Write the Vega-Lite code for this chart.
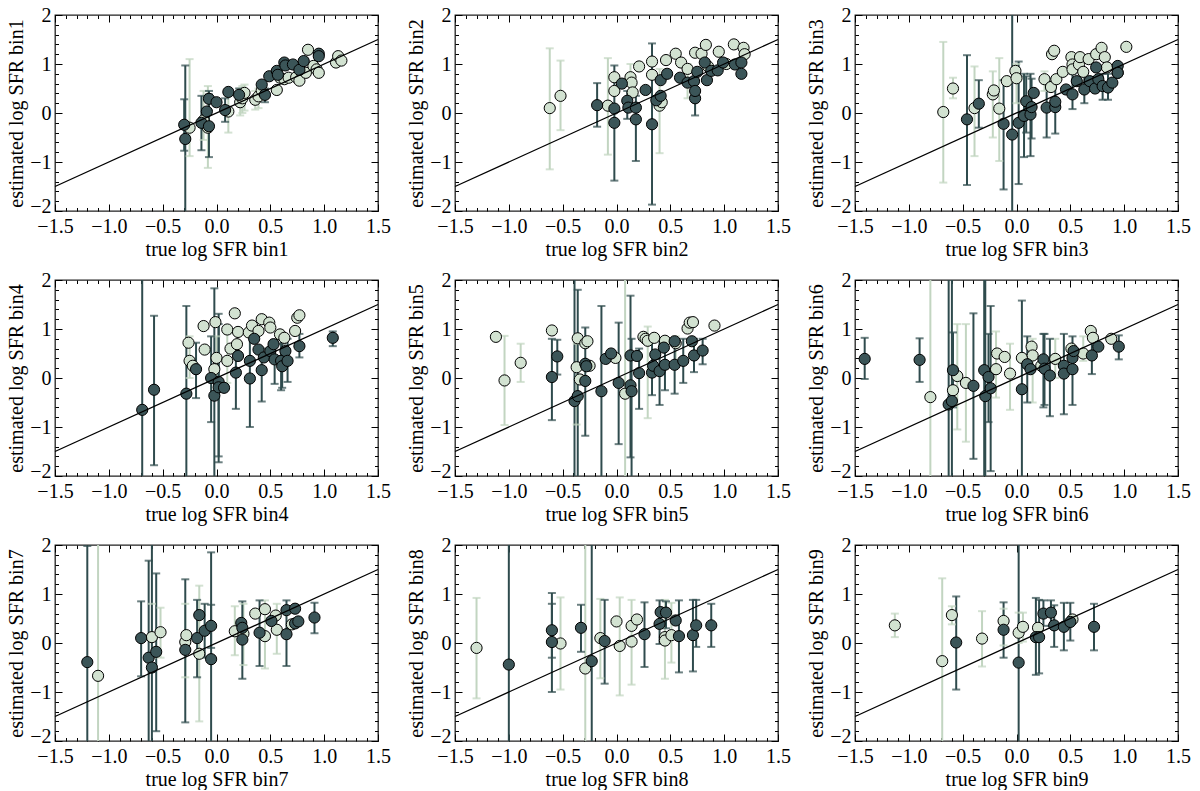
{
  "$schema": "https://vega.github.io/schema/vega-lite/v6.json",
  "background": "white",
  "padding": {"left": 6, "top": 4, "right": 0, "bottom": 0},
  "config": {
    "view": {"stroke": "#222222", "strokeWidth": 1.3},
    "axis": {
      "labelFont": "Liberation Serif", "titleFont": "Liberation Serif",
      "labelFontSize": 20, "titleFontSize": 20, "titleFontWeight": "normal",
      "labelColor": "black", "titleColor": "black", "tickColor": "black", "tickWidth": 1,
      "domain": false, "grid": false, "labelFlush": false, "labelOverlap": false, "titlePadding": 3
    }
  },
  "datasets": {
    "diag": [{"x": -1.5, "y": -1.5}, {"x": 1.5, "y": 1.5}],
    "pts": [
      {"b":1,"g":"L","x":-0.25,"y":-0.30,"lo":-0.88,"hi":1.10},
      {"b":1,"g":"L","x":-0.12,"y":-0.15,"lo":-0.55,"hi":0.45},
      {"b":1,"g":"L","x":-0.08,"y":-0.30,"lo":-1.12,"hi":0.55},
      {"b":1,"g":"L","x":0.11,"y":0.03,"lo":-0.40,"hi":0.35},
      {"b":1,"g":"L","x":0.22,"y":0.22,"lo":-0.05,"hi":0.50},
      {"b":1,"g":"L","x":0.24,"y":0.30,"lo":0.0,"hi":0.55},
      {"b":1,"g":"L","x":0.26,"y":0.41,"lo":0.05,"hi":0.58},
      {"b":1,"g":"L","x":0.36,"y":0.27,"lo":0.07,"hi":0.45},
      {"b":1,"g":"L","x":0.39,"y":0.34,"lo":0.10,"hi":0.50},
      {"b":1,"g":"L","x":0.42,"y":0.46},
      {"b":1,"g":"L","x":0.56,"y":0.47},
      {"b":1,"g":"L","x":0.59,"y":0.72},
      {"b":1,"g":"L","x":0.63,"y":0.69},
      {"b":1,"g":"L","x":0.67,"y":0.72},
      {"b":1,"g":"L","x":0.74,"y":0.73},
      {"b":1,"g":"L","x":0.77,"y":0.66},
      {"b":1,"g":"L","x":0.83,"y":0.82},
      {"b":1,"g":"L","x":0.85,"y":1.29},
      {"b":1,"g":"L","x":0.90,"y":0.96},
      {"b":1,"g":"L","x":0.93,"y":0.89},
      {"b":1,"g":"L","x":0.95,"y":0.82},
      {"b":1,"g":"L","x":1.11,"y":1.03},
      {"b":1,"g":"L","x":1.13,"y":1.16},
      {"b":1,"g":"L","x":1.16,"y":1.07},
      {"b":1,"g":"D","x":-0.30,"y":-0.24,"lo":-0.77,"hi":0.28},
      {"b":1,"g":"D","x":-0.29,"y":-0.53,"lo":-2.5,"hi":0.97},
      {"b":1,"g":"D","x":-0.14,"y":-0.20,"lo":-0.76,"hi":0.35},
      {"b":1,"g":"D","x":-0.09,"y":0.03},
      {"b":1,"g":"D","x":-0.07,"y":-0.27,"lo":-0.90,"hi":0.38},
      {"b":1,"g":"D","x":-0.07,"y":0.29,"lo":0.05,"hi":0.45},
      {"b":1,"g":"D","x":0.0,"y":0.22},
      {"b":1,"g":"D","x":0.08,"y":0.06,"lo":-0.18,"hi":0.30},
      {"b":1,"g":"D","x":0.11,"y":0.43},
      {"b":1,"g":"D","x":0.21,"y":0.37,"lo":0.20,"hi":0.50},
      {"b":1,"g":"D","x":0.42,"y":0.58},
      {"b":1,"g":"D","x":0.45,"y":0.37,"lo":0.22,"hi":0.50},
      {"b":1,"g":"D","x":0.49,"y":0.75},
      {"b":1,"g":"D","x":0.56,"y":0.86},
      {"b":1,"g":"D","x":0.57,"y":0.78},
      {"b":1,"g":"D","x":0.63,"y":1.03},
      {"b":1,"g":"D","x":0.64,"y":0.97},
      {"b":1,"g":"D","x":0.71,"y":0.99},
      {"b":1,"g":"D","x":0.77,"y":0.88},
      {"b":1,"g":"D","x":0.81,"y":1.06},
      {"b":1,"g":"D","x":0.95,"y":1.21},
      {"b":1,"g":"D","x":0.95,"y":1.16},

      {"b":2,"g":"L","x":-0.62,"y":0.10,"lo":-1.15,"hi":1.32},
      {"b":2,"g":"L","x":-0.52,"y":0.35,"lo":-0.35,"hi":1.07},
      {"b":2,"g":"L","x":-0.08,"y":0.15,"lo":-0.85,"hi":1.12},
      {"b":2,"g":"L","x":-0.02,"y":0.45},
      {"b":2,"g":"L","x":-0.02,"y":0.73},
      {"b":2,"g":"L","x":0.13,"y":0.73,"lo":0.20,"hi":1.00},
      {"b":2,"g":"L","x":0.14,"y":0.62},
      {"b":2,"g":"L","x":0.15,"y":0.42},
      {"b":2,"g":"L","x":0.21,"y":0.95},
      {"b":2,"g":"L","x":0.33,"y":1.05},
      {"b":2,"g":"L","x":0.33,"y":0.78},
      {"b":2,"g":"L","x":0.40,"y":0.15,"lo":-0.82,"hi":0.90},
      {"b":2,"g":"L","x":0.42,"y":0.22},
      {"b":2,"g":"L","x":0.46,"y":1.08},
      {"b":2,"g":"L","x":0.55,"y":1.21},
      {"b":2,"g":"L","x":0.60,"y":1.03},
      {"b":2,"g":"L","x":0.66,"y":0.90,"lo":0.30,"hi":1.00},
      {"b":2,"g":"L","x":0.73,"y":1.23},
      {"b":2,"g":"L","x":0.79,"y":1.21},
      {"b":2,"g":"L","x":0.83,"y":1.39},
      {"b":2,"g":"L","x":0.85,"y":0.95},
      {"b":2,"g":"L","x":0.95,"y":1.25},
      {"b":2,"g":"L","x":1.02,"y":1.00},
      {"b":2,"g":"L","x":1.09,"y":1.40},
      {"b":2,"g":"L","x":1.18,"y":1.33},
      {"b":2,"g":"L","x":1.19,"y":1.20},
      {"b":2,"g":"D","x":-0.18,"y":0.16,"lo":-0.28,"hi":0.61},
      {"b":2,"g":"D","x":-0.02,"y":0.09},
      {"b":2,"g":"D","x":-0.02,"y":-0.20,"lo":-1.38,"hi":0.97},
      {"b":2,"g":"D","x":0.05,"y":0.60},
      {"b":2,"g":"D","x":0.10,"y":0.25,"lo":-0.12,"hi":0.45},
      {"b":2,"g":"D","x":0.11,"y":0.11},
      {"b":2,"g":"D","x":0.18,"y":-0.13,"lo":-0.98,"hi":0.35},
      {"b":2,"g":"D","x":0.18,"y":0.11},
      {"b":2,"g":"D","x":0.27,"y":0.47},
      {"b":2,"g":"D","x":0.33,"y":-0.23,"lo":-1.87,"hi":1.42},
      {"b":2,"g":"D","x":0.37,"y":0.26},
      {"b":2,"g":"D","x":0.41,"y":0.35},
      {"b":2,"g":"D","x":0.41,"y":0.67},
      {"b":2,"g":"D","x":0.47,"y":0.80},
      {"b":2,"g":"D","x":0.59,"y":0.72},
      {"b":2,"g":"D","x":0.66,"y":0.62},
      {"b":2,"g":"D","x":0.72,"y":0.65},
      {"b":2,"g":"D","x":0.73,"y":0.30,"lo":-0.05,"hi":0.60},
      {"b":2,"g":"D","x":0.73,"y":0.45},
      {"b":2,"g":"D","x":0.75,"y":0.84},
      {"b":2,"g":"D","x":0.82,"y":1.03},
      {"b":2,"g":"D","x":0.84,"y":0.67},
      {"b":2,"g":"D","x":0.88,"y":0.86},
      {"b":2,"g":"D","x":0.94,"y":0.87},
      {"b":2,"g":"D","x":0.99,"y":1.03},
      {"b":2,"g":"D","x":1.10,"y":0.99},
      {"b":2,"g":"D","x":1.16,"y":1.03},
      {"b":2,"g":"D","x":1.16,"y":0.80},

      {"b":3,"g":"L","x":-0.68,"y":0.02,"lo":-1.42,"hi":1.45},
      {"b":3,"g":"L","x":-0.59,"y":0.50,"lo":0.30,"hi":0.72},
      {"b":3,"g":"L","x":-0.39,"y":0.10,"lo":-0.88,"hi":0.95},
      {"b":3,"g":"L","x":-0.22,"y":0.38,"lo":-0.50,"hi":0.85},
      {"b":3,"g":"L","x":-0.21,"y":0.46},
      {"b":3,"g":"L","x":-0.16,"y":0.09,"lo":-0.98,"hi":1.12},
      {"b":3,"g":"L","x":-0.09,"y":0.65},
      {"b":3,"g":"L","x":-0.01,"y":0.86},
      {"b":3,"g":"L","x":0.0,"y":0.71,"lo":0.20,"hi":1.00},
      {"b":3,"g":"L","x":0.26,"y":0.69,"lo":0.45,"hi":0.85},
      {"b":3,"g":"L","x":0.32,"y":0.53},
      {"b":3,"g":"L","x":0.33,"y":1.20},
      {"b":3,"g":"L","x":0.35,"y":1.27},
      {"b":3,"g":"L","x":0.37,"y":0.69},
      {"b":3,"g":"L","x":0.43,"y":0.84},
      {"b":3,"g":"L","x":0.51,"y":1.14},
      {"b":3,"g":"L","x":0.52,"y":0.99},
      {"b":3,"g":"L","x":0.52,"y":0.89},
      {"b":3,"g":"L","x":0.58,"y":0.99},
      {"b":3,"g":"L","x":0.59,"y":1.14},
      {"b":3,"g":"L","x":0.62,"y":0.84},
      {"b":3,"g":"L","x":0.67,"y":1.10},
      {"b":3,"g":"L","x":0.74,"y":1.20},
      {"b":3,"g":"L","x":0.79,"y":1.33},
      {"b":3,"g":"L","x":0.82,"y":1.14},
      {"b":3,"g":"L","x":0.84,"y":0.93},
      {"b":3,"g":"L","x":0.94,"y":0.82},
      {"b":3,"g":"L","x":1.02,"y":1.35},
      {"b":3,"g":"D","x":-0.46,"y":-0.13,"lo":-1.47,"hi":1.18},
      {"b":3,"g":"D","x":-0.35,"y":0.19,"lo":-0.30,"hi":0.67},
      {"b":3,"g":"D","x":-0.12,"y":-0.22,"lo":-1.56,"hi":0.67},
      {"b":3,"g":"D","x":-0.04,"y":-0.44,"lo":-2.5,"hi":2.5},
      {"b":3,"g":"D","x":0.02,"y":-0.20,"lo":-1.45,"hi":1.05},
      {"b":3,"g":"D","x":0.07,"y":-0.06,"lo":-0.90,"hi":0.80},
      {"b":3,"g":"D","x":0.09,"y":0.24,"lo":-0.40,"hi":0.75},
      {"b":3,"g":"D","x":0.13,"y":-0.03,"lo":-0.88,"hi":0.80},
      {"b":3,"g":"D","x":0.14,"y":0.12,"lo":-0.52,"hi":0.70},
      {"b":3,"g":"D","x":0.16,"y":0.41},
      {"b":3,"g":"D","x":0.28,"y":0.11,"lo":-0.50,"hi":0.70},
      {"b":3,"g":"D","x":0.36,"y":0.12,"lo":-0.42,"hi":0.72},
      {"b":3,"g":"D","x":0.36,"y":0.23},
      {"b":3,"g":"D","x":0.46,"y":0.48},
      {"b":3,"g":"D","x":0.52,"y":0.38,"lo":0.08,"hi":0.80},
      {"b":3,"g":"D","x":0.56,"y":0.65},
      {"b":3,"g":"D","x":0.63,"y":0.48,"lo":0.20,"hi":0.80},
      {"b":3,"g":"D","x":0.68,"y":0.65},
      {"b":3,"g":"D","x":0.73,"y":0.50},
      {"b":3,"g":"D","x":0.74,"y":0.93},
      {"b":3,"g":"D","x":0.76,"y":0.69},
      {"b":3,"g":"D","x":0.80,"y":0.55,"lo":0.27,"hi":0.80},
      {"b":3,"g":"D","x":0.85,"y":0.52,"lo":0.27,"hi":0.80},
      {"b":3,"g":"D","x":0.89,"y":0.62},
      {"b":3,"g":"D","x":0.94,"y":0.96},
      {"b":3,"g":"D","x":0.94,"y":0.82},

      {"b":4,"g":"L","x":-0.26,"y":0.72},
      {"b":4,"g":"L","x":-0.25,"y":0.35,"lo":0.0,"hi":0.85},
      {"b":4,"g":"L","x":-0.22,"y":0.25},
      {"b":4,"g":"L","x":-0.12,"y":1.06},
      {"b":4,"g":"L","x":-0.11,"y":0.58},
      {"b":4,"g":"L","x":-0.02,"y":0.18},
      {"b":4,"g":"L","x":-0.01,"y":1.14},
      {"b":4,"g":"L","x":0.0,"y":0.41,"lo":-0.20,"hi":0.85},
      {"b":4,"g":"L","x":0.10,"y":0.99},
      {"b":4,"g":"L","x":0.10,"y":0.35,"lo":-0.10,"hi":0.90},
      {"b":4,"g":"L","x":0.13,"y":0.60},
      {"b":4,"g":"L","x":0.17,"y":1.32},
      {"b":4,"g":"L","x":0.19,"y":0.69},
      {"b":4,"g":"L","x":0.20,"y":0.94},
      {"b":4,"g":"L","x":0.30,"y":0.93},
      {"b":4,"g":"L","x":0.33,"y":1.07},
      {"b":4,"g":"L","x":0.39,"y":0.96},
      {"b":4,"g":"L","x":0.42,"y":1.20},
      {"b":4,"g":"L","x":0.49,"y":1.13},
      {"b":4,"g":"L","x":0.50,"y":1.03},
      {"b":4,"g":"L","x":0.59,"y":0.89},
      {"b":4,"g":"L","x":0.63,"y":0.82},
      {"b":4,"g":"L","x":0.73,"y":0.96},
      {"b":4,"g":"L","x":0.75,"y":1.23},
      {"b":4,"g":"L","x":0.77,"y":1.28},
      {"b":4,"g":"D","x":-0.69,"y":-0.65,"lo":-2.5,"hi":2.5},
      {"b":4,"g":"D","x":-0.58,"y":-0.24,"lo":-1.78,"hi":1.27},
      {"b":4,"g":"D","x":-0.28,"y":-0.32,"lo":-2.5,"hi":1.47},
      {"b":4,"g":"D","x":-0.19,"y":0.18,"lo":-0.41,"hi":0.72},
      {"b":4,"g":"D","x":-0.05,"y":0.0,"lo":-0.90,"hi":0.85},
      {"b":4,"g":"D","x":-0.02,"y":-0.36,"lo":-2.5,"hi":1.83},
      {"b":4,"g":"D","x":0.02,"y":-0.08,"lo":-1.60,"hi":1.10},
      {"b":4,"g":"D","x":0.02,"y":-0.19,"lo":-1.72,"hi":1.31},
      {"b":4,"g":"D","x":0.07,"y":-0.20},
      {"b":4,"g":"D","x":0.18,"y":0.11,"lo":-0.63,"hi":0.72},
      {"b":4,"g":"D","x":0.20,"y":0.45},
      {"b":4,"g":"D","x":0.31,"y":0.35,"lo":-1.00,"hi":0.90},
      {"b":4,"g":"D","x":0.31,"y":-0.01},
      {"b":4,"g":"D","x":0.35,"y":0.80},
      {"b":4,"g":"D","x":0.39,"y":0.58},
      {"b":4,"g":"D","x":0.42,"y":0.16,"lo":-0.48,"hi":0.60},
      {"b":4,"g":"D","x":0.44,"y":0.42},
      {"b":4,"g":"D","x":0.50,"y":0.55},
      {"b":4,"g":"D","x":0.53,"y":0.69},
      {"b":4,"g":"D","x":0.54,"y":0.38,"lo":-0.12,"hi":0.78},
      {"b":4,"g":"D","x":0.60,"y":0.35,"lo":-0.25,"hi":0.80},
      {"b":4,"g":"D","x":0.61,"y":0.24,"lo":-0.20,"hi":0.70},
      {"b":4,"g":"D","x":0.64,"y":0.55},
      {"b":4,"g":"D","x":0.66,"y":0.35,"lo":-0.08,"hi":0.80},
      {"b":4,"g":"D","x":0.77,"y":0.65,"lo":0.42,"hi":0.90},
      {"b":4,"g":"D","x":1.08,"y":0.82,"lo":0.65,"hi":0.95},

      {"b":5,"g":"L","x":-1.12,"y":0.84},
      {"b":5,"g":"L","x":-1.04,"y":-0.05,"lo":-0.96,"hi":0.86},
      {"b":5,"g":"L","x":-0.89,"y":0.31,"lo":-0.08,"hi":0.70},
      {"b":5,"g":"L","x":-0.60,"y":0.97},
      {"b":5,"g":"L","x":-0.37,"y":0.22,"lo":-0.95,"hi":0.70},
      {"b":5,"g":"L","x":-0.36,"y":0.81},
      {"b":5,"g":"L","x":-0.34,"y":-0.03},
      {"b":5,"g":"L","x":-0.29,"y":0.71},
      {"b":5,"g":"L","x":-0.27,"y":0.75},
      {"b":5,"g":"L","x":-0.25,"y":0.25},
      {"b":5,"g":"L","x":-0.01,"y":0.41},
      {"b":5,"g":"L","x":0.08,"y":-0.32,"lo":-2.5,"hi":2.5},
      {"b":5,"g":"L","x":0.25,"y":0.84},
      {"b":5,"g":"L","x":0.27,"y":0.80},
      {"b":5,"g":"L","x":0.29,"y":0.76,"lo":-0.82,"hi":1.05},
      {"b":5,"g":"L","x":0.35,"y":0.82},
      {"b":5,"g":"L","x":0.45,"y":0.76},
      {"b":5,"g":"L","x":0.55,"y":0.71,"lo":0.30,"hi":0.85},
      {"b":5,"g":"L","x":0.66,"y":1.01},
      {"b":5,"g":"L","x":0.68,"y":1.13},
      {"b":5,"g":"L","x":0.71,"y":1.14},
      {"b":5,"g":"L","x":0.91,"y":1.07},
      {"b":5,"g":"D","x":-0.60,"y":0.02,"lo":-0.86,"hi":0.80},
      {"b":5,"g":"D","x":-0.55,"y":0.44,"lo":0.07,"hi":0.78},
      {"b":5,"g":"D","x":-0.39,"y":-0.47,"lo":-2.5,"hi":2.5},
      {"b":5,"g":"D","x":-0.36,"y":-0.37,"lo":-2.5,"hi":1.80},
      {"b":5,"g":"D","x":-0.29,"y":0.29,"lo":-1.18,"hi":1.03},
      {"b":5,"g":"D","x":-0.29,"y":-0.06},
      {"b":5,"g":"D","x":-0.28,"y":0.24},
      {"b":5,"g":"D","x":-0.14,"y":-0.27,"lo":-2.5,"hi":1.47},
      {"b":5,"g":"D","x":-0.10,"y":0.39},
      {"b":5,"g":"D","x":-0.05,"y":0.50},
      {"b":5,"g":"D","x":0.02,"y":-0.10,"lo":-1.35,"hi":1.13},
      {"b":5,"g":"D","x":0.13,"y":-0.15,"lo":-1.62,"hi":1.68},
      {"b":5,"g":"D","x":0.14,"y":-0.27,"lo":-2.5,"hi":0.80},
      {"b":5,"g":"D","x":0.13,"y":0.46},
      {"b":5,"g":"D","x":0.19,"y":0.45},
      {"b":5,"g":"D","x":0.21,"y":0.10,"lo":-0.63,"hi":0.60},
      {"b":5,"g":"D","x":0.33,"y":0.11,"lo":-0.35,"hi":0.80},
      {"b":5,"g":"D","x":0.34,"y":0.25},
      {"b":5,"g":"D","x":0.36,"y":0.48},
      {"b":5,"g":"D","x":0.40,"y":0.14,"lo":-0.55,"hi":0.80},
      {"b":5,"g":"D","x":0.45,"y":0.27,"lo":-0.25,"hi":0.80},
      {"b":5,"g":"D","x":0.44,"y":0.62},
      {"b":5,"g":"D","x":0.54,"y":0.27,"lo":-0.32,"hi":0.80},
      {"b":5,"g":"D","x":0.54,"y":0.75},
      {"b":5,"g":"D","x":0.62,"y":0.35,"lo":-0.10,"hi":0.80},
      {"b":5,"g":"D","x":0.70,"y":0.75},
      {"b":5,"g":"D","x":0.72,"y":0.46,"lo":0.12,"hi":0.80},
      {"b":5,"g":"D","x":0.80,"y":0.56,"lo":0.28,"hi":0.80},

      {"b":6,"g":"L","x":-0.80,"y":-0.39,"lo":-2.5,"hi":2.5},
      {"b":6,"g":"L","x":-0.59,"y":-0.25},
      {"b":6,"g":"L","x":-0.55,"y":0.04,"lo":-1.05,"hi":1.10},
      {"b":6,"g":"L","x":-0.47,"y":-0.10,"lo":-1.30,"hi":1.10},
      {"b":6,"g":"L","x":-0.19,"y":0.18,"lo":-0.40,"hi":0.95},
      {"b":6,"g":"L","x":-0.18,"y":0.50},
      {"b":6,"g":"L","x":-0.11,"y":0.43},
      {"b":6,"g":"L","x":-0.06,"y":0.09,"lo":-0.65,"hi":0.70},
      {"b":6,"g":"L","x":0.05,"y":0.41},
      {"b":6,"g":"L","x":0.14,"y":0.64},
      {"b":6,"g":"L","x":0.15,"y":0.46,"lo":-0.50,"hi":0.80},
      {"b":6,"g":"L","x":0.23,"y":0.25},
      {"b":6,"g":"L","x":0.36,"y":0.39,"lo":0.0,"hi":0.80},
      {"b":6,"g":"L","x":0.51,"y":0.60},
      {"b":6,"g":"L","x":0.62,"y":0.50,"lo":0.35,"hi":0.85},
      {"b":6,"g":"L","x":0.69,"y":0.96},
      {"b":6,"g":"L","x":0.71,"y":0.82},
      {"b":6,"g":"L","x":0.88,"y":0.80},
      {"b":6,"g":"D","x":-1.41,"y":0.39,"lo":-0.02,"hi":0.82},
      {"b":6,"g":"D","x":-0.90,"y":0.37,"lo":-0.08,"hi":0.81},
      {"b":6,"g":"D","x":-0.63,"y":-0.54,"lo":-2.5,"hi":2.5},
      {"b":6,"g":"D","x":-0.60,"y":-0.47,"lo":-2.5,"hi":2.5},
      {"b":6,"g":"D","x":-0.59,"y":0.16,"lo":-0.60,"hi":0.93},
      {"b":6,"g":"D","x":-0.40,"y":-0.16,"lo":-1.65,"hi":1.32},
      {"b":6,"g":"D","x":-0.30,"y":0.16,"lo":-2.5,"hi":2.5},
      {"b":6,"g":"D","x":-0.29,"y":-0.37,"lo":-2.5,"hi":2.5},
      {"b":6,"g":"D","x":-0.26,"y":0.02,"lo":-0.90,"hi":0.90},
      {"b":6,"g":"D","x":-0.24,"y":-0.21,"lo":-1.90,"hi":1.47},
      {"b":6,"g":"D","x":0.05,"y":-0.23,"lo":-2.5,"hi":1.58},
      {"b":6,"g":"D","x":0.10,"y":0.28,"lo":-0.50,"hi":0.85},
      {"b":6,"g":"D","x":0.13,"y":0.18},
      {"b":6,"g":"D","x":0.25,"y":0.38,"lo":-0.60,"hi":0.90},
      {"b":6,"g":"D","x":0.26,"y":0.19,"lo":-0.55,"hi":0.90},
      {"b":6,"g":"D","x":0.31,"y":0.05,"lo":-0.78,"hi":0.80},
      {"b":6,"g":"D","x":0.44,"y":0.25,"lo":-0.74,"hi":0.90},
      {"b":6,"g":"D","x":0.44,"y":0.09},
      {"b":6,"g":"D","x":0.52,"y":0.41,"lo":-0.55,"hi":0.85},
      {"b":6,"g":"D","x":0.52,"y":0.18},
      {"b":6,"g":"D","x":0.53,"y":0.55},
      {"b":6,"g":"D","x":0.70,"y":0.46,"lo":0.08,"hi":0.90},
      {"b":6,"g":"D","x":0.76,"y":0.64},
      {"b":6,"g":"D","x":0.95,"y":0.64,"lo":0.38,"hi":0.87},

      {"b":7,"g":"L","x":-1.10,"y":-0.67,"lo":-2.5,"hi":2.5},
      {"b":7,"g":"L","x":-0.60,"y":0.12,"lo":-0.30,"hi":0.80},
      {"b":7,"g":"L","x":-0.52,"y":0.22,"lo":-0.30,"hi":0.72},
      {"b":7,"g":"L","x":-0.29,"y":0.02,"lo":-0.70,"hi":0.80},
      {"b":7,"g":"L","x":-0.28,"y":0.16},
      {"b":7,"g":"L","x":-0.16,"y":-0.22,"lo":-1.60,"hi":1.17},
      {"b":7,"g":"L","x":0.17,"y":0.24,"lo":-0.25,"hi":0.75},
      {"b":7,"g":"L","x":0.25,"y":0.19,"lo":-0.45,"hi":0.80},
      {"b":7,"g":"L","x":0.36,"y":0.60},
      {"b":7,"g":"L","x":0.45,"y":0.69},
      {"b":7,"g":"L","x":0.45,"y":0.14,"lo":-0.52,"hi":0.87},
      {"b":7,"g":"L","x":0.55,"y":0.56},
      {"b":7,"g":"L","x":0.56,"y":0.27,"lo":-0.22,"hi":0.80},
      {"b":7,"g":"L","x":0.70,"y":0.38},
      {"b":7,"g":"D","x":-1.20,"y":-0.39,"lo":-2.5,"hi":1.98},
      {"b":7,"g":"D","x":-0.70,"y":0.10,"lo":-0.68,"hi":0.85},
      {"b":7,"g":"D","x":-0.63,"y":-0.30,"lo":-2.5,"hi":1.68},
      {"b":7,"g":"D","x":-0.60,"y":-0.50,"lo":-2.5,"hi":2.5},
      {"b":7,"g":"D","x":-0.56,"y":-0.18,"lo":-1.80,"hi":1.42},
      {"b":7,"g":"D","x":-0.29,"y":-0.14,"lo":-1.62,"hi":1.30},
      {"b":7,"g":"D","x":-0.18,"y":0.10,"lo":-0.70,"hi":0.88},
      {"b":7,"g":"D","x":-0.16,"y":0.57},
      {"b":7,"g":"D","x":-0.11,"y":0.25,"lo":-0.30,"hi":0.80},
      {"b":7,"g":"D","x":-0.05,"y":0.35,"lo":-0.10,"hi":1.85},
      {"b":7,"g":"D","x":-0.05,"y":-0.33,"lo":-2.5,"hi":0.78},
      {"b":7,"g":"D","x":0.23,"y":0.41},
      {"b":7,"g":"D","x":0.24,"y":0.31},
      {"b":7,"g":"D","x":0.24,"y":0.07,"lo":-0.73,"hi":0.85},
      {"b":7,"g":"D","x":0.40,"y":0.21,"lo":-0.47,"hi":0.87},
      {"b":7,"g":"D","x":0.51,"y":0.45},
      {"b":7,"g":"D","x":0.65,"y":0.18,"lo":-0.47,"hi":0.87},
      {"b":7,"g":"D","x":0.65,"y":0.67},
      {"b":7,"g":"D","x":0.73,"y":0.70},
      {"b":7,"g":"D","x":0.73,"y":0.40},
      {"b":7,"g":"D","x":0.76,"y":0.44},
      {"b":7,"g":"D","x":0.91,"y":0.52,"lo":0.20,"hi":0.82},

      {"b":8,"g":"L","x":-1.30,"y":-0.10,"lo":-1.13,"hi":0.92},
      {"b":8,"g":"L","x":-0.52,"y":-0.01,"lo":-0.95,"hi":0.93},
      {"b":8,"g":"L","x":-0.29,"y":-0.52,"lo":-2.5,"hi":2.5},
      {"b":8,"g":"L","x":-0.15,"y":0.10,"lo":-0.72,"hi":0.90},
      {"b":8,"g":"L","x":0.0,"y":0.44},
      {"b":8,"g":"L","x":0.03,"y":-0.06,"lo":-1.07,"hi":0.93},
      {"b":8,"g":"L","x":0.14,"y":0.03,"lo":-0.85,"hi":0.88},
      {"b":8,"g":"L","x":0.14,"y":0.35},
      {"b":8,"g":"L","x":0.19,"y":0.48},
      {"b":8,"g":"L","x":0.45,"y":0.12},
      {"b":8,"g":"L","x":0.45,"y":0.05,"lo":-0.73,"hi":0.88},
      {"b":8,"g":"L","x":0.51,"y":0.16,"lo":-0.40,"hi":0.82},
      {"b":8,"g":"D","x":-1.00,"y":-0.44,"lo":-2.5,"hi":2.5},
      {"b":8,"g":"D","x":-0.60,"y":0.26,"lo":-0.30,"hi":1.02},
      {"b":8,"g":"D","x":-0.60,"y":0.02,"lo":-1.00,"hi":0.80},
      {"b":8,"g":"D","x":-0.33,"y":0.31,"lo":-0.18,"hi":0.78},
      {"b":8,"g":"D","x":-0.23,"y":-0.37,"lo":-2.5,"hi":2.5},
      {"b":8,"g":"D","x":-0.11,"y":0.04,"lo":-0.83,"hi":0.88},
      {"b":8,"g":"D","x":0.26,"y":0.18,"lo":-0.49,"hi":0.83},
      {"b":8,"g":"D","x":0.40,"y":0.39,"lo":-0.02,"hi":0.87},
      {"b":8,"g":"D","x":0.41,"y":0.63},
      {"b":8,"g":"D","x":0.46,"y":0.62,"lo":0.30,"hi":0.85},
      {"b":8,"g":"D","x":0.55,"y":0.46},
      {"b":8,"g":"D","x":0.58,"y":0.14,"lo":-0.60,"hi":0.87},
      {"b":8,"g":"D","x":0.71,"y":0.16,"lo":-0.58,"hi":0.88},
      {"b":8,"g":"D","x":0.74,"y":0.36,"lo":-0.08,"hi":0.88},
      {"b":8,"g":"D","x":0.88,"y":0.36,"lo":-0.08,"hi":0.80},

      {"b":9,"g":"L","x":-1.13,"y":0.36,"lo":0.12,"hi":0.60},
      {"b":9,"g":"L","x":-0.69,"y":-0.37,"lo":-2.5,"hi":1.32},
      {"b":9,"g":"L","x":-0.60,"y":0.57,"lo":0.38,"hi":0.75},
      {"b":9,"g":"L","x":-0.32,"y":0.09,"lo":-0.48,"hi":0.65},
      {"b":9,"g":"L","x":-0.12,"y":0.45,"lo":-0.05,"hi":0.70},
      {"b":9,"g":"L","x":0.02,"y":0.21,"lo":0.0,"hi":0.62},
      {"b":9,"g":"L","x":0.06,"y":0.33,"lo":0.03,"hi":0.62},
      {"b":9,"g":"L","x":0.20,"y":0.31},
      {"b":9,"g":"L","x":0.52,"y":0.48},
      {"b":9,"g":"D","x":-0.56,"y":0.01,"lo":-0.95,"hi":0.95},
      {"b":9,"g":"D","x":-0.12,"y":0.27,"lo":-0.30,"hi":0.83},
      {"b":9,"g":"D","x":0.02,"y":-0.40,"lo":-2.5,"hi":2.5},
      {"b":9,"g":"D","x":0.18,"y":0.12,"lo":-0.65,"hi":0.92},
      {"b":9,"g":"D","x":0.21,"y":0.12,"lo":-0.62,"hi":0.88},
      {"b":9,"g":"D","x":0.25,"y":0.60,"lo":0.35,"hi":0.87},
      {"b":9,"g":"D","x":0.32,"y":0.62,"lo":0.35,"hi":0.87},
      {"b":9,"g":"D","x":0.35,"y":0.36,"lo":-0.08,"hi":0.77},
      {"b":9,"g":"D","x":0.44,"y":0.33,"lo":-0.15,"hi":0.82},
      {"b":9,"g":"D","x":0.50,"y":0.43,"lo":0.05,"hi":0.82},
      {"b":9,"g":"D","x":0.72,"y":0.33,"lo":-0.15,"hi":0.80}
    ]
  },
  "columns": 3,
  "bounds": "flush",
  "spacing": {"row": 69, "column": 77},
  "concat": [
    {"width":323,"height":196,"resolve":{"axis":{"x":"independent","y":"independent"}},"layer":[
      {"data":{"name":"pts"},"transform":[{"filter":"datum.b == 1 && isValid(datum.lo)"}],"mark":{"type":"rule","strokeWidth":2,"clip":true},
       "encoding":{"x":{"field":"x","type":"quantitative","scale":{"domain":[-1.5,1.5],"nice":false,"zero":false},"axis":{"orient":"bottom","values":[-1.5,-1,-0.5,0,0.5,1,1.5],"format":".1f","tickSize":-7,"labelPadding":12,"title":"true log SFR bin1"}},
        "y":{"field":"lo","type":"quantitative","scale":{"domain":[-2,2],"nice":false,"zero":false},"axis":{"orient":"left","values":[-2,-1,0,1,2],"format":"d","tickSize":-7,"labelPadding":11,"title":"estimated log SFR bin1","labelOffset":{"condition":{"test":"datum.value === -2","value":-5},"value":0}}},
        "y2":{"field":"hi"},
        "color":{"field":"g","type":"nominal","scale":{"domain":["L","D"],"range":["#c2d5c1","#2f4b4d"]},"legend":null}}},
      {"data":{"name":"pts"},"transform":[{"filter":"datum.b == 1 && isValid(datum.lo)"}],"mark":{"type":"tick","orient":"horizontal","size":8,"thickness":2,"clip":true},
       "encoding":{"x":{"field":"x","type":"quantitative","axis":{"orient":"bottom","values":[-1.4,-1.3,-1.2,-1.1,-0.9,-0.8,-0.7,-0.6,-0.4,-0.3,-0.2,-0.1,0.1,0.2,0.3,0.4,0.6,0.7,0.8,0.9,1.1,1.2,1.3,1.4],"labels":false,"tickSize":-3.5,"title":null}},
        "y":{"field":"lo","type":"quantitative","axis":{"orient":"left","values":[-1.8,-1.6,-1.4,-1.2,-0.8,-0.6,-0.4,-0.2,0.2,0.4,0.6,0.8,1.2,1.4,1.6,1.8],"labels":false,"tickSize":-3.5,"title":null}},
        "color":{"field":"g","type":"nominal","legend":null}}},
      {"data":{"name":"pts"},"transform":[{"filter":"datum.b == 1 && isValid(datum.lo)"}],"mark":{"type":"tick","orient":"horizontal","size":8,"thickness":2,"clip":true},
       "encoding":{"x":{"field":"x","type":"quantitative","axis":{"orient":"top","values":[-1.5,-1,-0.5,0,0.5,1,1.5],"labels":false,"tickSize":-7,"title":null}},
        "y":{"field":"hi","type":"quantitative","axis":{"orient":"right","values":[-2,-1,0,1,2],"labels":false,"tickSize":-7,"title":null}},
        "color":{"field":"g","type":"nominal","legend":null}}},
      {"data":{"name":"pts"},"transform":[{"filter":"datum.b == 1"}],"mark":{"type":"circle","size":125,"stroke":"black","strokeWidth":1,"opacity":1,"fillOpacity":1},
       "encoding":{"x":{"field":"x","type":"quantitative","axis":{"orient":"top","values":[-1.4,-1.3,-1.2,-1.1,-0.9,-0.8,-0.7,-0.6,-0.4,-0.3,-0.2,-0.1,0.1,0.2,0.3,0.4,0.6,0.7,0.8,0.9,1.1,1.2,1.3,1.4],"labels":false,"tickSize":-3.5,"title":null}},
        "y":{"field":"y","type":"quantitative","axis":{"orient":"right","values":[-1.8,-1.6,-1.4,-1.2,-0.8,-0.6,-0.4,-0.2,0.2,0.4,0.6,0.8,1.2,1.4,1.6,1.8],"labels":false,"tickSize":-3.5,"title":null}},
        "fill":{"field":"g","type":"nominal","scale":{"domain":["L","D"],"range":["#d2e2d1","#3b5558"]},"legend":null}}},
      {"data":{"name":"diag"},"mark":{"type":"line","color":"black","strokeWidth":1.3},
       "encoding":{"x":{"field":"x","type":"quantitative","axis":null},"y":{"field":"y","type":"quantitative","axis":null}}}
    ]},
    {"width":323,"height":196,"resolve":{"axis":{"x":"independent","y":"independent"}},"layer":[
      {"data":{"name":"pts"},"transform":[{"filter":"datum.b == 2 && isValid(datum.lo)"}],"mark":{"type":"rule","strokeWidth":2,"clip":true},
       "encoding":{"x":{"field":"x","type":"quantitative","scale":{"domain":[-1.5,1.5],"nice":false,"zero":false},"axis":{"orient":"bottom","values":[-1.5,-1,-0.5,0,0.5,1,1.5],"format":".1f","tickSize":-7,"labelPadding":12,"title":"true log SFR bin2"}},
        "y":{"field":"lo","type":"quantitative","scale":{"domain":[-2,2],"nice":false,"zero":false},"axis":{"orient":"left","values":[-2,-1,0,1,2],"format":"d","tickSize":-7,"labelPadding":11,"title":"estimated log SFR bin2","labelOffset":{"condition":{"test":"datum.value === -2","value":-5},"value":0}}},
        "y2":{"field":"hi"},
        "color":{"field":"g","type":"nominal","scale":{"domain":["L","D"],"range":["#c2d5c1","#2f4b4d"]},"legend":null}}},
      {"data":{"name":"pts"},"transform":[{"filter":"datum.b == 2 && isValid(datum.lo)"}],"mark":{"type":"tick","orient":"horizontal","size":8,"thickness":2,"clip":true},
       "encoding":{"x":{"field":"x","type":"quantitative","axis":{"orient":"bottom","values":[-1.4,-1.3,-1.2,-1.1,-0.9,-0.8,-0.7,-0.6,-0.4,-0.3,-0.2,-0.1,0.1,0.2,0.3,0.4,0.6,0.7,0.8,0.9,1.1,1.2,1.3,1.4],"labels":false,"tickSize":-3.5,"title":null}},
        "y":{"field":"lo","type":"quantitative","axis":{"orient":"left","values":[-1.8,-1.6,-1.4,-1.2,-0.8,-0.6,-0.4,-0.2,0.2,0.4,0.6,0.8,1.2,1.4,1.6,1.8],"labels":false,"tickSize":-3.5,"title":null}},
        "color":{"field":"g","type":"nominal","legend":null}}},
      {"data":{"name":"pts"},"transform":[{"filter":"datum.b == 2 && isValid(datum.lo)"}],"mark":{"type":"tick","orient":"horizontal","size":8,"thickness":2,"clip":true},
       "encoding":{"x":{"field":"x","type":"quantitative","axis":{"orient":"top","values":[-1.5,-1,-0.5,0,0.5,1,1.5],"labels":false,"tickSize":-7,"title":null}},
        "y":{"field":"hi","type":"quantitative","axis":{"orient":"right","values":[-2,-1,0,1,2],"labels":false,"tickSize":-7,"title":null}},
        "color":{"field":"g","type":"nominal","legend":null}}},
      {"data":{"name":"pts"},"transform":[{"filter":"datum.b == 2"}],"mark":{"type":"circle","size":125,"stroke":"black","strokeWidth":1,"opacity":1,"fillOpacity":1},
       "encoding":{"x":{"field":"x","type":"quantitative","axis":{"orient":"top","values":[-1.4,-1.3,-1.2,-1.1,-0.9,-0.8,-0.7,-0.6,-0.4,-0.3,-0.2,-0.1,0.1,0.2,0.3,0.4,0.6,0.7,0.8,0.9,1.1,1.2,1.3,1.4],"labels":false,"tickSize":-3.5,"title":null}},
        "y":{"field":"y","type":"quantitative","axis":{"orient":"right","values":[-1.8,-1.6,-1.4,-1.2,-0.8,-0.6,-0.4,-0.2,0.2,0.4,0.6,0.8,1.2,1.4,1.6,1.8],"labels":false,"tickSize":-3.5,"title":null}},
        "fill":{"field":"g","type":"nominal","scale":{"domain":["L","D"],"range":["#d2e2d1","#3b5558"]},"legend":null}}},
      {"data":{"name":"diag"},"mark":{"type":"line","color":"black","strokeWidth":1.3},
       "encoding":{"x":{"field":"x","type":"quantitative","axis":null},"y":{"field":"y","type":"quantitative","axis":null}}}
    ]},
    {"width":323,"height":196,"resolve":{"axis":{"x":"independent","y":"independent"}},"layer":[
      {"data":{"name":"pts"},"transform":[{"filter":"datum.b == 3 && isValid(datum.lo)"}],"mark":{"type":"rule","strokeWidth":2,"clip":true},
       "encoding":{"x":{"field":"x","type":"quantitative","scale":{"domain":[-1.5,1.5],"nice":false,"zero":false},"axis":{"orient":"bottom","values":[-1.5,-1,-0.5,0,0.5,1,1.5],"format":".1f","tickSize":-7,"labelPadding":12,"title":"true log SFR bin3"}},
        "y":{"field":"lo","type":"quantitative","scale":{"domain":[-2,2],"nice":false,"zero":false},"axis":{"orient":"left","values":[-2,-1,0,1,2],"format":"d","tickSize":-7,"labelPadding":11,"title":"estimated log SFR bin3","labelOffset":{"condition":{"test":"datum.value === -2","value":-5},"value":0}}},
        "y2":{"field":"hi"},
        "color":{"field":"g","type":"nominal","scale":{"domain":["L","D"],"range":["#c2d5c1","#2f4b4d"]},"legend":null}}},
      {"data":{"name":"pts"},"transform":[{"filter":"datum.b == 3 && isValid(datum.lo)"}],"mark":{"type":"tick","orient":"horizontal","size":8,"thickness":2,"clip":true},
       "encoding":{"x":{"field":"x","type":"quantitative","axis":{"orient":"bottom","values":[-1.4,-1.3,-1.2,-1.1,-0.9,-0.8,-0.7,-0.6,-0.4,-0.3,-0.2,-0.1,0.1,0.2,0.3,0.4,0.6,0.7,0.8,0.9,1.1,1.2,1.3,1.4],"labels":false,"tickSize":-3.5,"title":null}},
        "y":{"field":"lo","type":"quantitative","axis":{"orient":"left","values":[-1.8,-1.6,-1.4,-1.2,-0.8,-0.6,-0.4,-0.2,0.2,0.4,0.6,0.8,1.2,1.4,1.6,1.8],"labels":false,"tickSize":-3.5,"title":null}},
        "color":{"field":"g","type":"nominal","legend":null}}},
      {"data":{"name":"pts"},"transform":[{"filter":"datum.b == 3 && isValid(datum.lo)"}],"mark":{"type":"tick","orient":"horizontal","size":8,"thickness":2,"clip":true},
       "encoding":{"x":{"field":"x","type":"quantitative","axis":{"orient":"top","values":[-1.5,-1,-0.5,0,0.5,1,1.5],"labels":false,"tickSize":-7,"title":null}},
        "y":{"field":"hi","type":"quantitative","axis":{"orient":"right","values":[-2,-1,0,1,2],"labels":false,"tickSize":-7,"title":null}},
        "color":{"field":"g","type":"nominal","legend":null}}},
      {"data":{"name":"pts"},"transform":[{"filter":"datum.b == 3"}],"mark":{"type":"circle","size":125,"stroke":"black","strokeWidth":1,"opacity":1,"fillOpacity":1},
       "encoding":{"x":{"field":"x","type":"quantitative","axis":{"orient":"top","values":[-1.4,-1.3,-1.2,-1.1,-0.9,-0.8,-0.7,-0.6,-0.4,-0.3,-0.2,-0.1,0.1,0.2,0.3,0.4,0.6,0.7,0.8,0.9,1.1,1.2,1.3,1.4],"labels":false,"tickSize":-3.5,"title":null}},
        "y":{"field":"y","type":"quantitative","axis":{"orient":"right","values":[-1.8,-1.6,-1.4,-1.2,-0.8,-0.6,-0.4,-0.2,0.2,0.4,0.6,0.8,1.2,1.4,1.6,1.8],"labels":false,"tickSize":-3.5,"title":null}},
        "fill":{"field":"g","type":"nominal","scale":{"domain":["L","D"],"range":["#d2e2d1","#3b5558"]},"legend":null}}},
      {"data":{"name":"diag"},"mark":{"type":"line","color":"black","strokeWidth":1.3},
       "encoding":{"x":{"field":"x","type":"quantitative","axis":null},"y":{"field":"y","type":"quantitative","axis":null}}}
    ]},
    {"width":323,"height":196,"resolve":{"axis":{"x":"independent","y":"independent"}},"layer":[
      {"data":{"name":"pts"},"transform":[{"filter":"datum.b == 4 && isValid(datum.lo)"}],"mark":{"type":"rule","strokeWidth":2,"clip":true},
       "encoding":{"x":{"field":"x","type":"quantitative","scale":{"domain":[-1.5,1.5],"nice":false,"zero":false},"axis":{"orient":"bottom","values":[-1.5,-1,-0.5,0,0.5,1,1.5],"format":".1f","tickSize":-7,"labelPadding":12,"title":"true log SFR bin4"}},
        "y":{"field":"lo","type":"quantitative","scale":{"domain":[-2,2],"nice":false,"zero":false},"axis":{"orient":"left","values":[-2,-1,0,1,2],"format":"d","tickSize":-7,"labelPadding":11,"title":"estimated log SFR bin4","labelOffset":{"condition":{"test":"datum.value === -2","value":-5},"value":0}}},
        "y2":{"field":"hi"},
        "color":{"field":"g","type":"nominal","scale":{"domain":["L","D"],"range":["#c2d5c1","#2f4b4d"]},"legend":null}}},
      {"data":{"name":"pts"},"transform":[{"filter":"datum.b == 4 && isValid(datum.lo)"}],"mark":{"type":"tick","orient":"horizontal","size":8,"thickness":2,"clip":true},
       "encoding":{"x":{"field":"x","type":"quantitative","axis":{"orient":"bottom","values":[-1.4,-1.3,-1.2,-1.1,-0.9,-0.8,-0.7,-0.6,-0.4,-0.3,-0.2,-0.1,0.1,0.2,0.3,0.4,0.6,0.7,0.8,0.9,1.1,1.2,1.3,1.4],"labels":false,"tickSize":-3.5,"title":null}},
        "y":{"field":"lo","type":"quantitative","axis":{"orient":"left","values":[-1.8,-1.6,-1.4,-1.2,-0.8,-0.6,-0.4,-0.2,0.2,0.4,0.6,0.8,1.2,1.4,1.6,1.8],"labels":false,"tickSize":-3.5,"title":null}},
        "color":{"field":"g","type":"nominal","legend":null}}},
      {"data":{"name":"pts"},"transform":[{"filter":"datum.b == 4 && isValid(datum.lo)"}],"mark":{"type":"tick","orient":"horizontal","size":8,"thickness":2,"clip":true},
       "encoding":{"x":{"field":"x","type":"quantitative","axis":{"orient":"top","values":[-1.5,-1,-0.5,0,0.5,1,1.5],"labels":false,"tickSize":-7,"title":null}},
        "y":{"field":"hi","type":"quantitative","axis":{"orient":"right","values":[-2,-1,0,1,2],"labels":false,"tickSize":-7,"title":null}},
        "color":{"field":"g","type":"nominal","legend":null}}},
      {"data":{"name":"pts"},"transform":[{"filter":"datum.b == 4"}],"mark":{"type":"circle","size":125,"stroke":"black","strokeWidth":1,"opacity":1,"fillOpacity":1},
       "encoding":{"x":{"field":"x","type":"quantitative","axis":{"orient":"top","values":[-1.4,-1.3,-1.2,-1.1,-0.9,-0.8,-0.7,-0.6,-0.4,-0.3,-0.2,-0.1,0.1,0.2,0.3,0.4,0.6,0.7,0.8,0.9,1.1,1.2,1.3,1.4],"labels":false,"tickSize":-3.5,"title":null}},
        "y":{"field":"y","type":"quantitative","axis":{"orient":"right","values":[-1.8,-1.6,-1.4,-1.2,-0.8,-0.6,-0.4,-0.2,0.2,0.4,0.6,0.8,1.2,1.4,1.6,1.8],"labels":false,"tickSize":-3.5,"title":null}},
        "fill":{"field":"g","type":"nominal","scale":{"domain":["L","D"],"range":["#d2e2d1","#3b5558"]},"legend":null}}},
      {"data":{"name":"diag"},"mark":{"type":"line","color":"black","strokeWidth":1.3},
       "encoding":{"x":{"field":"x","type":"quantitative","axis":null},"y":{"field":"y","type":"quantitative","axis":null}}}
    ]},
    {"width":323,"height":196,"resolve":{"axis":{"x":"independent","y":"independent"}},"layer":[
      {"data":{"name":"pts"},"transform":[{"filter":"datum.b == 5 && isValid(datum.lo)"}],"mark":{"type":"rule","strokeWidth":2,"clip":true},
       "encoding":{"x":{"field":"x","type":"quantitative","scale":{"domain":[-1.5,1.5],"nice":false,"zero":false},"axis":{"orient":"bottom","values":[-1.5,-1,-0.5,0,0.5,1,1.5],"format":".1f","tickSize":-7,"labelPadding":12,"title":"true log SFR bin5"}},
        "y":{"field":"lo","type":"quantitative","scale":{"domain":[-2,2],"nice":false,"zero":false},"axis":{"orient":"left","values":[-2,-1,0,1,2],"format":"d","tickSize":-7,"labelPadding":11,"title":"estimated log SFR bin5","labelOffset":{"condition":{"test":"datum.value === -2","value":-5},"value":0}}},
        "y2":{"field":"hi"},
        "color":{"field":"g","type":"nominal","scale":{"domain":["L","D"],"range":["#c2d5c1","#2f4b4d"]},"legend":null}}},
      {"data":{"name":"pts"},"transform":[{"filter":"datum.b == 5 && isValid(datum.lo)"}],"mark":{"type":"tick","orient":"horizontal","size":8,"thickness":2,"clip":true},
       "encoding":{"x":{"field":"x","type":"quantitative","axis":{"orient":"bottom","values":[-1.4,-1.3,-1.2,-1.1,-0.9,-0.8,-0.7,-0.6,-0.4,-0.3,-0.2,-0.1,0.1,0.2,0.3,0.4,0.6,0.7,0.8,0.9,1.1,1.2,1.3,1.4],"labels":false,"tickSize":-3.5,"title":null}},
        "y":{"field":"lo","type":"quantitative","axis":{"orient":"left","values":[-1.8,-1.6,-1.4,-1.2,-0.8,-0.6,-0.4,-0.2,0.2,0.4,0.6,0.8,1.2,1.4,1.6,1.8],"labels":false,"tickSize":-3.5,"title":null}},
        "color":{"field":"g","type":"nominal","legend":null}}},
      {"data":{"name":"pts"},"transform":[{"filter":"datum.b == 5 && isValid(datum.lo)"}],"mark":{"type":"tick","orient":"horizontal","size":8,"thickness":2,"clip":true},
       "encoding":{"x":{"field":"x","type":"quantitative","axis":{"orient":"top","values":[-1.5,-1,-0.5,0,0.5,1,1.5],"labels":false,"tickSize":-7,"title":null}},
        "y":{"field":"hi","type":"quantitative","axis":{"orient":"right","values":[-2,-1,0,1,2],"labels":false,"tickSize":-7,"title":null}},
        "color":{"field":"g","type":"nominal","legend":null}}},
      {"data":{"name":"pts"},"transform":[{"filter":"datum.b == 5"}],"mark":{"type":"circle","size":125,"stroke":"black","strokeWidth":1,"opacity":1,"fillOpacity":1},
       "encoding":{"x":{"field":"x","type":"quantitative","axis":{"orient":"top","values":[-1.4,-1.3,-1.2,-1.1,-0.9,-0.8,-0.7,-0.6,-0.4,-0.3,-0.2,-0.1,0.1,0.2,0.3,0.4,0.6,0.7,0.8,0.9,1.1,1.2,1.3,1.4],"labels":false,"tickSize":-3.5,"title":null}},
        "y":{"field":"y","type":"quantitative","axis":{"orient":"right","values":[-1.8,-1.6,-1.4,-1.2,-0.8,-0.6,-0.4,-0.2,0.2,0.4,0.6,0.8,1.2,1.4,1.6,1.8],"labels":false,"tickSize":-3.5,"title":null}},
        "fill":{"field":"g","type":"nominal","scale":{"domain":["L","D"],"range":["#d2e2d1","#3b5558"]},"legend":null}}},
      {"data":{"name":"diag"},"mark":{"type":"line","color":"black","strokeWidth":1.3},
       "encoding":{"x":{"field":"x","type":"quantitative","axis":null},"y":{"field":"y","type":"quantitative","axis":null}}}
    ]},
    {"width":323,"height":196,"resolve":{"axis":{"x":"independent","y":"independent"}},"layer":[
      {"data":{"name":"pts"},"transform":[{"filter":"datum.b == 6 && isValid(datum.lo)"}],"mark":{"type":"rule","strokeWidth":2,"clip":true},
       "encoding":{"x":{"field":"x","type":"quantitative","scale":{"domain":[-1.5,1.5],"nice":false,"zero":false},"axis":{"orient":"bottom","values":[-1.5,-1,-0.5,0,0.5,1,1.5],"format":".1f","tickSize":-7,"labelPadding":12,"title":"true log SFR bin6"}},
        "y":{"field":"lo","type":"quantitative","scale":{"domain":[-2,2],"nice":false,"zero":false},"axis":{"orient":"left","values":[-2,-1,0,1,2],"format":"d","tickSize":-7,"labelPadding":11,"title":"estimated log SFR bin6","labelOffset":{"condition":{"test":"datum.value === -2","value":-5},"value":0}}},
        "y2":{"field":"hi"},
        "color":{"field":"g","type":"nominal","scale":{"domain":["L","D"],"range":["#c2d5c1","#2f4b4d"]},"legend":null}}},
      {"data":{"name":"pts"},"transform":[{"filter":"datum.b == 6 && isValid(datum.lo)"}],"mark":{"type":"tick","orient":"horizontal","size":8,"thickness":2,"clip":true},
       "encoding":{"x":{"field":"x","type":"quantitative","axis":{"orient":"bottom","values":[-1.4,-1.3,-1.2,-1.1,-0.9,-0.8,-0.7,-0.6,-0.4,-0.3,-0.2,-0.1,0.1,0.2,0.3,0.4,0.6,0.7,0.8,0.9,1.1,1.2,1.3,1.4],"labels":false,"tickSize":-3.5,"title":null}},
        "y":{"field":"lo","type":"quantitative","axis":{"orient":"left","values":[-1.8,-1.6,-1.4,-1.2,-0.8,-0.6,-0.4,-0.2,0.2,0.4,0.6,0.8,1.2,1.4,1.6,1.8],"labels":false,"tickSize":-3.5,"title":null}},
        "color":{"field":"g","type":"nominal","legend":null}}},
      {"data":{"name":"pts"},"transform":[{"filter":"datum.b == 6 && isValid(datum.lo)"}],"mark":{"type":"tick","orient":"horizontal","size":8,"thickness":2,"clip":true},
       "encoding":{"x":{"field":"x","type":"quantitative","axis":{"orient":"top","values":[-1.5,-1,-0.5,0,0.5,1,1.5],"labels":false,"tickSize":-7,"title":null}},
        "y":{"field":"hi","type":"quantitative","axis":{"orient":"right","values":[-2,-1,0,1,2],"labels":false,"tickSize":-7,"title":null}},
        "color":{"field":"g","type":"nominal","legend":null}}},
      {"data":{"name":"pts"},"transform":[{"filter":"datum.b == 6"}],"mark":{"type":"circle","size":125,"stroke":"black","strokeWidth":1,"opacity":1,"fillOpacity":1},
       "encoding":{"x":{"field":"x","type":"quantitative","axis":{"orient":"top","values":[-1.4,-1.3,-1.2,-1.1,-0.9,-0.8,-0.7,-0.6,-0.4,-0.3,-0.2,-0.1,0.1,0.2,0.3,0.4,0.6,0.7,0.8,0.9,1.1,1.2,1.3,1.4],"labels":false,"tickSize":-3.5,"title":null}},
        "y":{"field":"y","type":"quantitative","axis":{"orient":"right","values":[-1.8,-1.6,-1.4,-1.2,-0.8,-0.6,-0.4,-0.2,0.2,0.4,0.6,0.8,1.2,1.4,1.6,1.8],"labels":false,"tickSize":-3.5,"title":null}},
        "fill":{"field":"g","type":"nominal","scale":{"domain":["L","D"],"range":["#d2e2d1","#3b5558"]},"legend":null}}},
      {"data":{"name":"diag"},"mark":{"type":"line","color":"black","strokeWidth":1.3},
       "encoding":{"x":{"field":"x","type":"quantitative","axis":null},"y":{"field":"y","type":"quantitative","axis":null}}}
    ]},
    {"width":323,"height":196,"resolve":{"axis":{"x":"independent","y":"independent"}},"layer":[
      {"data":{"name":"pts"},"transform":[{"filter":"datum.b == 7 && isValid(datum.lo)"}],"mark":{"type":"rule","strokeWidth":2,"clip":true},
       "encoding":{"x":{"field":"x","type":"quantitative","scale":{"domain":[-1.5,1.5],"nice":false,"zero":false},"axis":{"orient":"bottom","values":[-1.5,-1,-0.5,0,0.5,1,1.5],"format":".1f","tickSize":-7,"labelPadding":12,"title":"true log SFR bin7"}},
        "y":{"field":"lo","type":"quantitative","scale":{"domain":[-2,2],"nice":false,"zero":false},"axis":{"orient":"left","values":[-2,-1,0,1,2],"format":"d","tickSize":-7,"labelPadding":11,"title":"estimated log SFR bin7","labelOffset":{"condition":{"test":"datum.value === -2","value":-5},"value":0}}},
        "y2":{"field":"hi"},
        "color":{"field":"g","type":"nominal","scale":{"domain":["L","D"],"range":["#c2d5c1","#2f4b4d"]},"legend":null}}},
      {"data":{"name":"pts"},"transform":[{"filter":"datum.b == 7 && isValid(datum.lo)"}],"mark":{"type":"tick","orient":"horizontal","size":8,"thickness":2,"clip":true},
       "encoding":{"x":{"field":"x","type":"quantitative","axis":{"orient":"bottom","values":[-1.4,-1.3,-1.2,-1.1,-0.9,-0.8,-0.7,-0.6,-0.4,-0.3,-0.2,-0.1,0.1,0.2,0.3,0.4,0.6,0.7,0.8,0.9,1.1,1.2,1.3,1.4],"labels":false,"tickSize":-3.5,"title":null}},
        "y":{"field":"lo","type":"quantitative","axis":{"orient":"left","values":[-1.8,-1.6,-1.4,-1.2,-0.8,-0.6,-0.4,-0.2,0.2,0.4,0.6,0.8,1.2,1.4,1.6,1.8],"labels":false,"tickSize":-3.5,"title":null}},
        "color":{"field":"g","type":"nominal","legend":null}}},
      {"data":{"name":"pts"},"transform":[{"filter":"datum.b == 7 && isValid(datum.lo)"}],"mark":{"type":"tick","orient":"horizontal","size":8,"thickness":2,"clip":true},
       "encoding":{"x":{"field":"x","type":"quantitative","axis":{"orient":"top","values":[-1.5,-1,-0.5,0,0.5,1,1.5],"labels":false,"tickSize":-7,"title":null}},
        "y":{"field":"hi","type":"quantitative","axis":{"orient":"right","values":[-2,-1,0,1,2],"labels":false,"tickSize":-7,"title":null}},
        "color":{"field":"g","type":"nominal","legend":null}}},
      {"data":{"name":"pts"},"transform":[{"filter":"datum.b == 7"}],"mark":{"type":"circle","size":125,"stroke":"black","strokeWidth":1,"opacity":1,"fillOpacity":1},
       "encoding":{"x":{"field":"x","type":"quantitative","axis":{"orient":"top","values":[-1.4,-1.3,-1.2,-1.1,-0.9,-0.8,-0.7,-0.6,-0.4,-0.3,-0.2,-0.1,0.1,0.2,0.3,0.4,0.6,0.7,0.8,0.9,1.1,1.2,1.3,1.4],"labels":false,"tickSize":-3.5,"title":null}},
        "y":{"field":"y","type":"quantitative","axis":{"orient":"right","values":[-1.8,-1.6,-1.4,-1.2,-0.8,-0.6,-0.4,-0.2,0.2,0.4,0.6,0.8,1.2,1.4,1.6,1.8],"labels":false,"tickSize":-3.5,"title":null}},
        "fill":{"field":"g","type":"nominal","scale":{"domain":["L","D"],"range":["#d2e2d1","#3b5558"]},"legend":null}}},
      {"data":{"name":"diag"},"mark":{"type":"line","color":"black","strokeWidth":1.3},
       "encoding":{"x":{"field":"x","type":"quantitative","axis":null},"y":{"field":"y","type":"quantitative","axis":null}}}
    ]},
    {"width":323,"height":196,"resolve":{"axis":{"x":"independent","y":"independent"}},"layer":[
      {"data":{"name":"pts"},"transform":[{"filter":"datum.b == 8 && isValid(datum.lo)"}],"mark":{"type":"rule","strokeWidth":2,"clip":true},
       "encoding":{"x":{"field":"x","type":"quantitative","scale":{"domain":[-1.5,1.5],"nice":false,"zero":false},"axis":{"orient":"bottom","values":[-1.5,-1,-0.5,0,0.5,1,1.5],"format":".1f","tickSize":-7,"labelPadding":12,"title":"true log SFR bin8"}},
        "y":{"field":"lo","type":"quantitative","scale":{"domain":[-2,2],"nice":false,"zero":false},"axis":{"orient":"left","values":[-2,-1,0,1,2],"format":"d","tickSize":-7,"labelPadding":11,"title":"estimated log SFR bin8","labelOffset":{"condition":{"test":"datum.value === -2","value":-5},"value":0}}},
        "y2":{"field":"hi"},
        "color":{"field":"g","type":"nominal","scale":{"domain":["L","D"],"range":["#c2d5c1","#2f4b4d"]},"legend":null}}},
      {"data":{"name":"pts"},"transform":[{"filter":"datum.b == 8 && isValid(datum.lo)"}],"mark":{"type":"tick","orient":"horizontal","size":8,"thickness":2,"clip":true},
       "encoding":{"x":{"field":"x","type":"quantitative","axis":{"orient":"bottom","values":[-1.4,-1.3,-1.2,-1.1,-0.9,-0.8,-0.7,-0.6,-0.4,-0.3,-0.2,-0.1,0.1,0.2,0.3,0.4,0.6,0.7,0.8,0.9,1.1,1.2,1.3,1.4],"labels":false,"tickSize":-3.5,"title":null}},
        "y":{"field":"lo","type":"quantitative","axis":{"orient":"left","values":[-1.8,-1.6,-1.4,-1.2,-0.8,-0.6,-0.4,-0.2,0.2,0.4,0.6,0.8,1.2,1.4,1.6,1.8],"labels":false,"tickSize":-3.5,"title":null}},
        "color":{"field":"g","type":"nominal","legend":null}}},
      {"data":{"name":"pts"},"transform":[{"filter":"datum.b == 8 && isValid(datum.lo)"}],"mark":{"type":"tick","orient":"horizontal","size":8,"thickness":2,"clip":true},
       "encoding":{"x":{"field":"x","type":"quantitative","axis":{"orient":"top","values":[-1.5,-1,-0.5,0,0.5,1,1.5],"labels":false,"tickSize":-7,"title":null}},
        "y":{"field":"hi","type":"quantitative","axis":{"orient":"right","values":[-2,-1,0,1,2],"labels":false,"tickSize":-7,"title":null}},
        "color":{"field":"g","type":"nominal","legend":null}}},
      {"data":{"name":"pts"},"transform":[{"filter":"datum.b == 8"}],"mark":{"type":"circle","size":125,"stroke":"black","strokeWidth":1,"opacity":1,"fillOpacity":1},
       "encoding":{"x":{"field":"x","type":"quantitative","axis":{"orient":"top","values":[-1.4,-1.3,-1.2,-1.1,-0.9,-0.8,-0.7,-0.6,-0.4,-0.3,-0.2,-0.1,0.1,0.2,0.3,0.4,0.6,0.7,0.8,0.9,1.1,1.2,1.3,1.4],"labels":false,"tickSize":-3.5,"title":null}},
        "y":{"field":"y","type":"quantitative","axis":{"orient":"right","values":[-1.8,-1.6,-1.4,-1.2,-0.8,-0.6,-0.4,-0.2,0.2,0.4,0.6,0.8,1.2,1.4,1.6,1.8],"labels":false,"tickSize":-3.5,"title":null}},
        "fill":{"field":"g","type":"nominal","scale":{"domain":["L","D"],"range":["#d2e2d1","#3b5558"]},"legend":null}}},
      {"data":{"name":"diag"},"mark":{"type":"line","color":"black","strokeWidth":1.3},
       "encoding":{"x":{"field":"x","type":"quantitative","axis":null},"y":{"field":"y","type":"quantitative","axis":null}}}
    ]},
    {"width":323,"height":196,"resolve":{"axis":{"x":"independent","y":"independent"}},"layer":[
      {"data":{"name":"pts"},"transform":[{"filter":"datum.b == 9 && isValid(datum.lo)"}],"mark":{"type":"rule","strokeWidth":2,"clip":true},
       "encoding":{"x":{"field":"x","type":"quantitative","scale":{"domain":[-1.5,1.5],"nice":false,"zero":false},"axis":{"orient":"bottom","values":[-1.5,-1,-0.5,0,0.5,1,1.5],"format":".1f","tickSize":-7,"labelPadding":12,"title":"true log SFR bin9"}},
        "y":{"field":"lo","type":"quantitative","scale":{"domain":[-2,2],"nice":false,"zero":false},"axis":{"orient":"left","values":[-2,-1,0,1,2],"format":"d","tickSize":-7,"labelPadding":11,"title":"estimated log SFR bin9","labelOffset":{"condition":{"test":"datum.value === -2","value":-5},"value":0}}},
        "y2":{"field":"hi"},
        "color":{"field":"g","type":"nominal","scale":{"domain":["L","D"],"range":["#c2d5c1","#2f4b4d"]},"legend":null}}},
      {"data":{"name":"pts"},"transform":[{"filter":"datum.b == 9 && isValid(datum.lo)"}],"mark":{"type":"tick","orient":"horizontal","size":8,"thickness":2,"clip":true},
       "encoding":{"x":{"field":"x","type":"quantitative","axis":{"orient":"bottom","values":[-1.4,-1.3,-1.2,-1.1,-0.9,-0.8,-0.7,-0.6,-0.4,-0.3,-0.2,-0.1,0.1,0.2,0.3,0.4,0.6,0.7,0.8,0.9,1.1,1.2,1.3,1.4],"labels":false,"tickSize":-3.5,"title":null}},
        "y":{"field":"lo","type":"quantitative","axis":{"orient":"left","values":[-1.8,-1.6,-1.4,-1.2,-0.8,-0.6,-0.4,-0.2,0.2,0.4,0.6,0.8,1.2,1.4,1.6,1.8],"labels":false,"tickSize":-3.5,"title":null}},
        "color":{"field":"g","type":"nominal","legend":null}}},
      {"data":{"name":"pts"},"transform":[{"filter":"datum.b == 9 && isValid(datum.lo)"}],"mark":{"type":"tick","orient":"horizontal","size":8,"thickness":2,"clip":true},
       "encoding":{"x":{"field":"x","type":"quantitative","axis":{"orient":"top","values":[-1.5,-1,-0.5,0,0.5,1,1.5],"labels":false,"tickSize":-7,"title":null}},
        "y":{"field":"hi","type":"quantitative","axis":{"orient":"right","values":[-2,-1,0,1,2],"labels":false,"tickSize":-7,"title":null}},
        "color":{"field":"g","type":"nominal","legend":null}}},
      {"data":{"name":"pts"},"transform":[{"filter":"datum.b == 9"}],"mark":{"type":"circle","size":125,"stroke":"black","strokeWidth":1,"opacity":1,"fillOpacity":1},
       "encoding":{"x":{"field":"x","type":"quantitative","axis":{"orient":"top","values":[-1.4,-1.3,-1.2,-1.1,-0.9,-0.8,-0.7,-0.6,-0.4,-0.3,-0.2,-0.1,0.1,0.2,0.3,0.4,0.6,0.7,0.8,0.9,1.1,1.2,1.3,1.4],"labels":false,"tickSize":-3.5,"title":null}},
        "y":{"field":"y","type":"quantitative","axis":{"orient":"right","values":[-1.8,-1.6,-1.4,-1.2,-0.8,-0.6,-0.4,-0.2,0.2,0.4,0.6,0.8,1.2,1.4,1.6,1.8],"labels":false,"tickSize":-3.5,"title":null}},
        "fill":{"field":"g","type":"nominal","scale":{"domain":["L","D"],"range":["#d2e2d1","#3b5558"]},"legend":null}}},
      {"data":{"name":"diag"},"mark":{"type":"line","color":"black","strokeWidth":1.3},
       "encoding":{"x":{"field":"x","type":"quantitative","axis":null},"y":{"field":"y","type":"quantitative","axis":null}}}
    ]}
  ]
}
